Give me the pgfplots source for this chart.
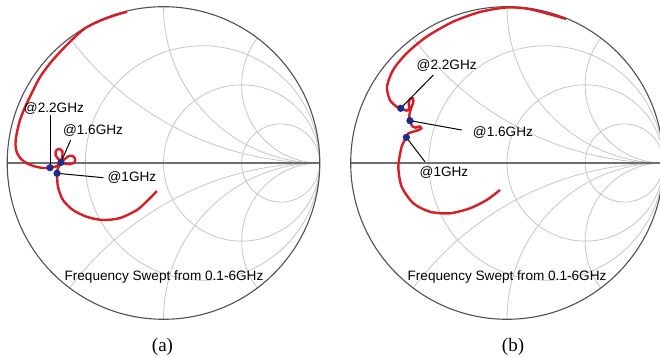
\documentclass[border=0pt]{standalone}
\usepackage{pgfplots}
\pgfplotsset{compat=1.18}
\usepackage{fontspec}
\setmainfont{Liberation Sans}
\newfontfamily\capfont{Liberation Serif}
\definecolor{curvered}{RGB}{218,28,36}
\definecolor{dotblue}{RGB}{30,45,140}
\definecolor{gridgray}{RGB}{198,198,198}
\definecolor{rimgray}{RGB}{80,80,80}
\definecolor{axgray}{RGB}{110,110,110}

\newcommand{\smithgrid}{%
  \begin{scope}
    \clip (axis cs:0,0) circle[radius=1];
    \draw[gridgray, line width=0.4pt] (axis cs:0.25,0) circle[radius=0.75];
    \draw[gridgray, line width=0.4pt] (axis cs:0.5,0) circle[radius=0.5];
    \draw[gridgray, line width=0.4pt] (axis cs:0.75,0) circle[radius=0.25];
    \draw[gridgray, line width=0.4pt] (axis cs:1,2) circle[radius=2];
    \draw[gridgray, line width=0.4pt] (axis cs:1,-2) circle[radius=2];
    \draw[gridgray, line width=0.4pt] (axis cs:1,1) circle[radius=1];
    \draw[gridgray, line width=0.4pt] (axis cs:1,-1) circle[radius=1];
    \draw[gridgray, line width=0.4pt] (axis cs:1,0.5) circle[radius=0.5];
    \draw[gridgray, line width=0.4pt] (axis cs:1,-0.5) circle[radius=0.5];
  \end{scope}
  \draw[axgray, line width=0.55pt] (axis cs:-1,0) -- (axis cs:1,0);
  \draw[rimgray, line width=0.55pt] (axis cs:0,0) circle[radius=1];
}
\pgfplotsset{smith/.style={hide axis, clip=false, x=78.15pt, y=78.15pt,
  xmin=-1, xmax=1, ymin=-1, ymax=1, anchor=center}}
\newcommand{\lblfont}{\fontsize{6.8}{8}\selectfont}

\begin{document}
\begin{tikzpicture}
\path[use as bounding box] (0,0) rectangle (330pt,179pt);

% ---------- panel (a) ----------
\begin{axis}[smith, at={(81.75pt,97.5pt)}]
\smithgrid
\addplot[curvered, line width=1.2pt, smooth, tension=0.45] coordinates {
(-0.042,-0.179) (-0.099,-0.237) (-0.170,-0.301) (-0.278,-0.352) (-0.387,-0.365)
(-0.489,-0.345) (-0.579,-0.301) (-0.643,-0.237) (-0.675,-0.154) (-0.681,-0.066)
(-0.675,-0.032) (-0.662,-0.013) (-0.656,0.004)
(-0.635,0.022) (-0.610,0.042) (-0.583,0.046) (-0.566,0.028) (-0.570,0.003)
(-0.605,-0.008) (-0.643,0.000)
(-0.669,0.021) (-0.690,0.050) (-0.687,0.080) (-0.665,0.090) (-0.647,0.074)
(-0.648,0.038) (-0.662,0.000) (-0.681,-0.019) (-0.700,-0.026) (-0.726,-0.030)
(-0.771,-0.032) (-0.822,-0.022) (-0.873,-0.003) (-0.912,0.026) (-0.937,0.064)
(-0.947,0.115) (-0.941,0.179) (-0.918,0.275) (-0.880,0.371) (-0.833,0.467)
(-0.790,0.550) (-0.726,0.638) (-0.662,0.710) (-0.587,0.787) (-0.502,0.862)
(-0.406,0.910) (-0.310,0.945) (-0.233,0.968)
};
\addplot[only marks, mark=*, mark size=1.6pt, dotblue] coordinates {
(-0.681,-0.066) (-0.656,0.004) (-0.726,-0.030)};
\draw[black, line width=0.5pt] (axis cs:-0.726,-0.030) -- (axis cs:-0.726,0.310);
\draw[black, line width=0.5pt] (axis cs:-0.656,0.004) -- (axis cs:-0.594,0.147);
\draw[black, line width=0.5pt] (axis cs:-0.681,-0.066) -- (axis cs:-0.385,-0.094);
\node[font=\lblfont] at (axis cs:-0.701,0.350) {@2.2GHz};
\node[font=\lblfont] at (axis cs:-0.451,0.211) {@1.6GHz};
\node[font=\lblfont] at (axis cs:-0.202,-0.093) {@1GHz};
\node[font=\lblfont] at (axis cs:0.003,-0.729) {Frequency Swept from 0.1-6GHz};
\end{axis}

% ---------- panel (b) ----------
\begin{axis}[smith, at={(253.5pt,97.5pt)}]
\smithgrid
\addplot[curvered, line width=1.2pt, smooth, tension=0.45] coordinates {
(-0.045,-0.173) (-0.130,-0.237) (-0.237,-0.290) (-0.365,-0.322) (-0.493,-0.312)
(-0.599,-0.258) (-0.674,-0.152) (-0.695,-0.024) (-0.674,0.104) (-0.644,0.164)
(-0.631,0.190) (-0.600,0.200) (-0.568,0.210) (-0.548,0.222) (-0.560,0.234)
(-0.585,0.226) (-0.605,0.234) (-0.615,0.252) (-0.621,0.271)
(-0.625,0.296) (-0.621,0.328) (-0.610,0.360) (-0.599,0.392) (-0.603,0.414)
(-0.621,0.408) (-0.629,0.382) (-0.625,0.350) (-0.642,0.335) (-0.663,0.344)
(-0.680,0.350)
(-0.706,0.360) (-0.749,0.403) (-0.768,0.488) (-0.729,0.595) (-0.642,0.702)
(-0.514,0.808) (-0.345,0.904) (-0.173,0.966) (-0.002,0.995) (0.147,0.984)
(0.378,0.922)
};
\addplot[only marks, mark=*, mark size=1.6pt, dotblue] coordinates {
(-0.644,0.164) (-0.621,0.271) (-0.680,0.350)};
\draw[black, line width=0.5pt] (axis cs:-0.680,0.350) -- (axis cs:-0.471,0.563);
\draw[black, line width=0.5pt] (axis cs:-0.621,0.271) -- (axis cs:-0.290,0.211);
\draw[black, line width=0.5pt] (axis cs:-0.644,0.164) -- (axis cs:-0.525,0.008);
\node[font=\lblfont] at (axis cs:-0.386,0.621) {@2.2GHz};
\node[font=\lblfont] at (axis cs:-0.026,0.195) {@1.6GHz};
\node[font=\lblfont] at (axis cs:-0.403,-0.061) {@1GHz};
\node[font=\lblfont] at (axis cs:0.0,-0.729) {Frequency Swept from 0.1-6GHz};
\end{axis}

\node[font=\capfont\fontsize{9.5}{10}\selectfont] at (81.25pt,5.5pt) {(a)};
\node[font=\capfont\fontsize{9.5}{10}\selectfont] at (256.5pt,5.5pt) {(b)};
\end{tikzpicture}
\end{document}
